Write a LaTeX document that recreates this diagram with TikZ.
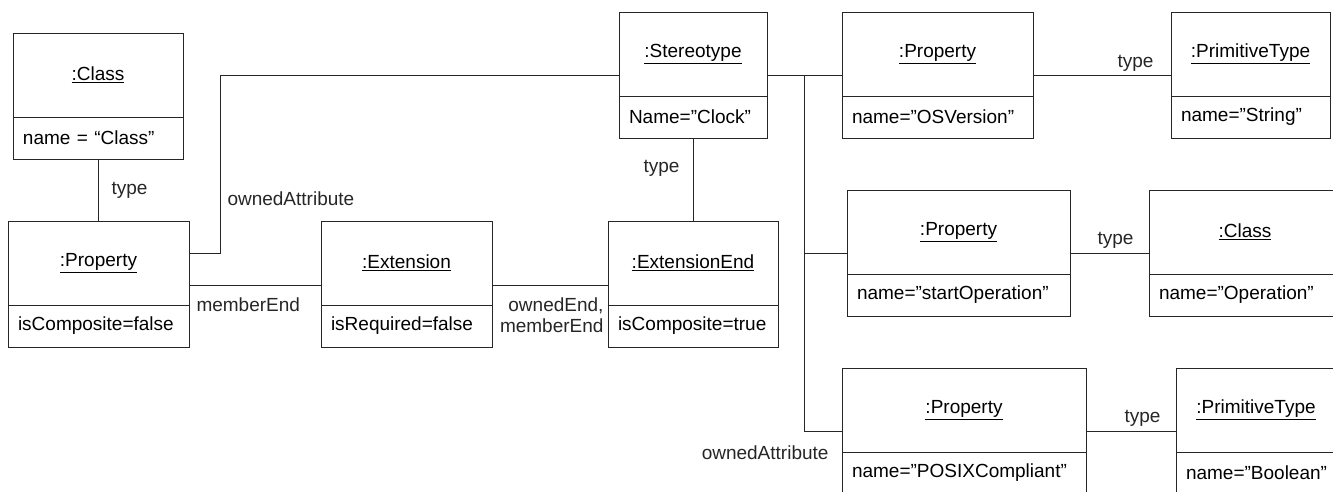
\documentclass[tikz,border=0pt]{standalone}
\usepackage{fontspec}
\setmainfont{Liberation Sans}
\usetikzlibrary{positioning}

\begin{document}
\begin{tikzpicture}[
    x=1pt, y=-1pt,
    objtitle/.style={draw=black!85, minimum width=#1, minimum height=84pt,
                     inner sep=0pt, outer sep=0pt, anchor=north west},
    objattr/.style={draw=black!85, text width=#1, minimum height=42pt,
                    inner xsep=10pt, inner ysep=0pt, outer sep=0pt, align=left},
    lbl/.style={inner sep=0pt},
    line width=1pt, font=\fontsize{19}{23}\selectfont
  ]
  \useasboundingbox (0,0) rectangle (1333,491);
  \clip (0,0) rectangle (1333,491);

  % Class and Property
  \node[objtitle=170pt] (cls) at (13,33) {\underline{:Class}};
  \node[objattr=150pt, below=0pt of cls] (clsA) {name = “Class”};
  \node[objtitle=181pt] (prop) at (8,221) {\underline{:Property}};
  \node[objattr=161pt, below=0pt of prop] (propA) {isComposite=false};

  % Extension and Stereotype
  \node[objtitle=171pt] (ext) at (321,221) {\underline{:Extension}};
  \node[objattr=151pt, below=0pt of ext] (extA) {isRequired=false};
  \node[objtitle=170pt] (extEnd) at (608,221) {\underline{:ExtensionEnd}};
  \node[objattr=150pt, below=0pt of extEnd] (extEndA) {isComposite=true};
  \node[objtitle=148pt] (stereo) at (619,12) {\underline{:Stereotype}};
  \node[objattr=128pt, below=0pt of stereo] (stereoA) {Name=”Clock”};

  % Owned attributes and their types
  \node[objtitle=191pt] (osv) at (842,12) {\underline{:Property}};
  \node[objattr=171pt, below=0pt of osv] (osvA) {name=”OSVersion”};
  \node[objtitle=159pt] (strT) at (1171,12) {\underline{:PrimitiveType}};
  \node[objattr=139pt, below=0pt of strT] (strTA) {name=”String”};
  \node[objtitle=223pt] (startOp) at (847,190) {\underline{:Property}};
  \node[objattr=203pt, below=0pt of startOp] (startOpA) {name=”startOperation”};
  \node[objtitle=192pt] (opCls) at (1149,190) {\underline{:Class}};
  \node[objattr=172pt, below=0pt of opCls] (opClsA) {name=”Operation”};
  \node[objtitle=244pt] (posix) at (842,368) {\underline{:Property}};
  \node[objattr=224pt, below=0pt of posix] (posixA) {name=”POSIXCompliant”};
  \node[objtitle=160pt] (boolT) at (1176,368) {\underline{:PrimitiveType}};
  \node[objattr=140pt, below=0pt of boolT] (boolTA) {name=”Boolean”};

  % Links on the left
  \draw[black!85] (clsA.south) -- node[lbl, right=13pt] {type}
    (clsA.south |- prop.north);
  \draw[black!85] ([yshift=10pt]prop.east) -- ++(31,0)
    |- node[lbl, pos=0.152, right=7pt] {ownedAttribute}
    ([yshift=-21pt]stereo.west);
  \draw[black!85] ([yshift=-22pt]prop.east) --
    node[lbl, pos=0, anchor=north west, xshift=7pt, yshift=-12pt] {memberEnd}
    ([yshift=-22pt]ext.west);
  \draw[black!85] ([yshift=-22pt]ext.east) --
    node[lbl, pos=1, anchor=north east, align=right, xshift=-4pt, yshift=-12pt,
         font=\fontsize{19}{21}\selectfont] {ownedEnd,\\memberEnd}
    ([yshift=-22pt]extEnd.west);
  \draw[black!85] (stereoA.south) -- node[lbl, pos=0.36, left=13pt] {type}
    (stereoA.south |- extEnd.north);

  % Links on the right
  \draw[black!85] ([yshift=-21pt]stereo.east) -- ([yshift=-21pt]osv.west);
  \coordinate (branch) at ([xshift=37pt, yshift=-21pt]stereo.east);
  \draw[black!85] (branch) |- ([yshift=-21pt]startOp.west);
  \draw[black!85] (branch) |-
    node[lbl, pos=1, anchor=north east, xshift=-13pt, yshift=-14pt] {ownedAttribute}
    ([yshift=-21pt]posix.west);
  \draw[black!85] ([yshift=-21pt]osv.east) --
    node[lbl, pos=1, anchor=south east, xshift=-17pt, yshift=3pt] {type}
    ([yshift=-21pt]strT.west);
  \draw[black!85] ([yshift=-21pt]startOp.east) --
    node[lbl, pos=1, anchor=south east, xshift=-15pt, yshift=4pt] {type}
    ([yshift=-21pt]opCls.west);
  \draw[black!85] ([yshift=-21pt]posix.east) --
    node[lbl, pos=1, anchor=south east, xshift=-15pt, yshift=4pt] {type}
    ([yshift=-21pt]boolT.west);

\end{tikzpicture}
\end{document}
